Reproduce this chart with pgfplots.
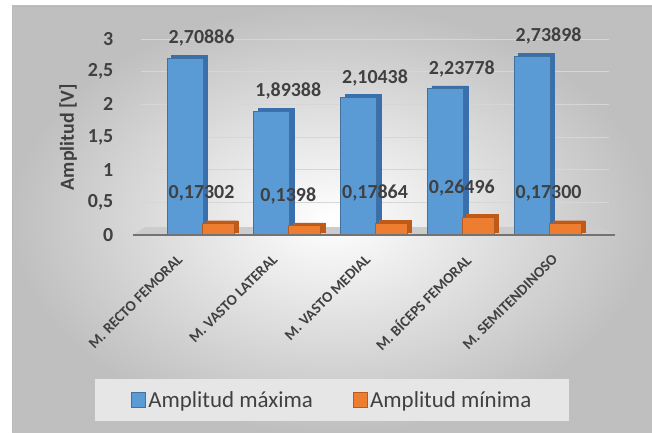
\documentclass[border=0pt]{standalone}
\usepackage{pgfplots}
\pgfplotsset{compat=1.18}
\usepackage{pgfplotstable}
\usepackage{fontspec}
\setmainfont{Carlito}

\definecolor{maxfill}{HTML}{5B9BD5}
\definecolor{maxside}{HTML}{3A6FAE}
\definecolor{maxedge}{HTML}{41719C}
\definecolor{minfill}{HTML}{ED7D31}
\definecolor{minside}{HTML}{C05A18}
\definecolor{minedge}{HTML}{B55A20}
\definecolor{txt}{HTML}{404040}
\definecolor{legbg}{HTML}{E6E6E6}

% peak-to-peak amplitudes per muscle
\pgfplotstableread{
x y label
0 2.70886 2,70886
1 1.89388 1,89388
2 2.10438 2,10438
3 2.23778 2,23778
4 2.73898 2,73898
}\maxtable
\pgfplotstableread{
x y label
0 0.17302 0,17302
1 0.1398 0,1398
2 0.17864 0,17864
3 0.26496 0,26496
4 0.17300 0,17300
}\mintable

\begin{document}
\begin{tikzpicture}[x=1bp,y=1bp]
\useasboundingbox (0,0) rectangle (652,432);
\shade[inner color=white, outer color=black!25] (12,0) rectangle (652,426);
\draw[black!28, line width=0.8bp] (12,0) -- (12,426) -- (652,426);
\begin{axis}[
  at={(140.8bp,197bp)}, anchor=south west,
  width=468.5bp, height=196bp, scale only axis,
  xmin=-0.7, xmax=4.7, ymin=0, ymax=3,
  clip=false,
  axis line style={draw=none},
  major tick length=0pt,
  ytick={0,0.5,1,1.5,2,2.5,3},
  ymajorgrids, grid style={black!16, line width=0.8bp},
  /pgf/number format/use comma,
  /pgf/number format/assume math mode=true,
  yticklabel style={font=\bfseries\fontsize{20}{22}\selectfont, text=txt, xshift=-24bp},
  xtick={-0.179,0.916,1.988,3.141,4.144},
  xticklabels={M. RECTO FEMORAL, M. VASTO LATERAL, M. VASTO MEDIAL, M. BÍCEPS FEMORAL, M. SEMITENDINOSO},
  xticklabel style={xshift=-6bp, yshift=-22bp, rotate=45, anchor=east, font=\bfseries\fontsize{15}{16}\selectfont, text=txt, inner sep=0pt},
  ylabel={Amplitud [V]},
  every axis y label/.style={at={(axis description cs:-0.155,0.5)}, rotate=90, anchor=center, font=\bfseries\fontsize{20}{22}\selectfont, text=txt},
  legend style={at={(axis description cs:-0.0978,-0.949)}, anchor=south west, draw=none,
    fill=legbg, text=txt,
    font=\fontsize{23}{25}\selectfont, inner xsep=36bp, inner ysep=10bp,
    /tikz/every even column/.append style={column sep=38bp}},
  legend columns=2,
  legend image code/.code={\draw[#1,/tikz/.cd,line width=1.2bp] (0bp,-7bp) rectangle (14bp,8bp);},
  nodes near coords,
  point meta=explicit symbolic,
  every node near coord/.append style={anchor=center, font=\bfseries\fontsize{20}{22}\selectfont, text=txt},
]
% floor slab under the bars
\fill[black!20] (axis cs:-0.79,0) -- (axis cs:4.767,0) -- (axis cs:4.594,0.1225) -- (axis cs:-0.651,0.1225) -- cycle;

% side faces giving the bars some depth
\addplot[ybar, bar width=36bp, bar shift=-12bp, fill=maxside, draw=maxside, yshift=3bp, forget plot, nodes near coords=] table[x=x,y=y] {\maxtable};
\addplot[ybar, bar width=36bp, bar shift=-16.5bp, fill=maxfill, draw=maxedge, line width=1bp,
  every node near coord/.append style={yshift=20bp}] table[x=x,y=y,meta=label] {\maxtable};
\addlegendentry{Amplitud máxima}

\addplot[ybar, bar width=32bp, bar shift=20.5bp, fill=minside, draw=minside, yshift=3bp, forget plot, nodes near coords=] table[x=x,y=y] {\mintable};
\addplot[ybar, bar width=32bp, bar shift=16.5bp, fill=minfill, draw=minedge, line width=1bp,
  every node near coord/.append style={yshift=30bp}] table[x=x,y=y,meta=label] {\mintable};
\addlegendentry{Amplitud mínima}

\draw[black!55, line width=1.5bp] (axis cs:-0.79,0) -- (axis cs:4.767,0);
\end{axis}
\end{tikzpicture}
\end{document}
